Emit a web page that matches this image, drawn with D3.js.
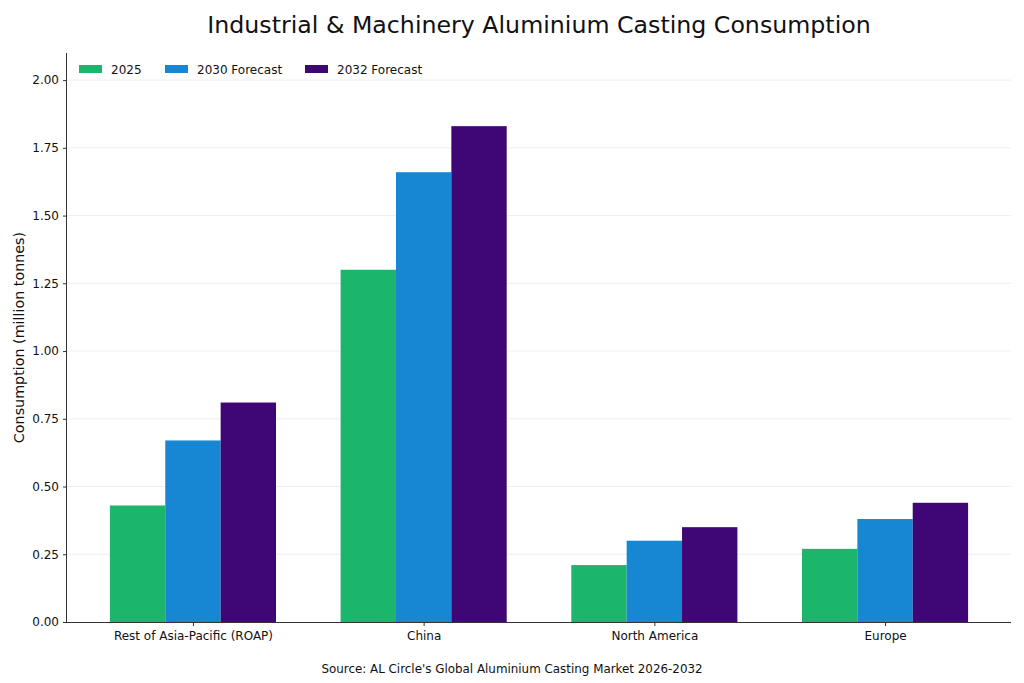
<!DOCTYPE html>
<html>
<head>
<meta charset="utf-8">
<script src="https://cdn.jsdelivr.net/npm/d3@7"></script>
<style>
  body { margin: 0; background: #fff; }
  svg { font-family: "DejaVu Sans", sans-serif; }
</style>
</head>
<body>
<div id="chart"></div>
<script>
// data
const regions = ["Rest of Asia-Pacific (ROAP)", "China", "North America", "Europe"];
const seriesNames = ["2025", "2030 Forecast", "2032 Forecast"];
const values2025 = [0.43, 1.30, 0.21, 0.27];
const values2030 = [0.67, 1.66, 0.30, 0.38];
const values2032 = [0.81, 1.83, 0.35, 0.44];
const yTicks = [0, 0.25, 0.5, 0.75, 1.0, 1.25, 1.5, 1.75, 2.0];
const colors = ["#1bb56b", "#1787d4", "#3f0775"];

const W = 1024, H = 683;
const margin = {top: 53, right: 13, bottom: 61, left: 67};
const width = W - margin.left - margin.right;
const height = H - margin.top - margin.bottom;

const svg = d3.select("#chart").append("svg")
  .attr("width", W).attr("height", H);

const g = svg.append("g")
  .attr("transform", "translate(" + margin.left + "," + margin.top + ")");

const series = [values2025, values2030, values2032];
const barW = 0.24;

// category index scale, matplotlib style padding
const x = d3.scaleLinear().domain([-0.546, 3.546]).range([0, width]);
const y = d3.scaleLinear().domain([0, 2.1]).range([height, 0]);

// grid
g.append("g").selectAll("line")
  .data(yTicks.slice(1))
  .enter().append("line")
    .attr("x1", 0).attr("x2", width)
    .attr("y1", d => y(d)).attr("y2", d => y(d))
    .attr("stroke", "#ebebeb").attr("stroke-width", 0.8);

// bars
series.forEach(function(vals, si) {
  g.append("g").selectAll("rect")
    .data(vals)
    .enter().append("rect")
      .attr("x", (d, i) => x(i + (si - 1) * barW - barW / 2))
      .attr("width", x(barW) - x(0))
      .attr("y", d => y(d))
      .attr("height", d => y(0) - y(d))
      .attr("fill", colors[si]);
});

// axes
const yAxis = g.append("g")
  .call(d3.axisLeft(y).tickValues(yTicks).tickFormat(d3.format(".2f")).tickSize(4).tickPadding(4));
const xAxis = g.append("g")
  .attr("transform", "translate(0," + height + ")")
  .call(d3.axisBottom(x).tickValues(d3.range(regions.length)).tickFormat(i => regions[i]).tickSize(4).tickPadding(5));

[xAxis, yAxis].forEach(function(a) {
  a.select(".domain").attr("stroke", "#333").attr("stroke-width", 1);
  a.selectAll(".tick line").attr("stroke", "#333");
  a.selectAll(".tick text").attr("fill", "#111").style("font-size", "12px")
    .style("font-family", "DejaVu Sans, sans-serif");
});
xAxis.select(".domain").attr("d", "M0,0.5H" + width);
yAxis.select(".domain").attr("d", "M-0.5," + height + "V0");

// title
svg.append("text")
  .attr("x", 539).attr("y", 33)
  .attr("text-anchor", "middle")
  .style("font-size", "23.7px")
  .attr("fill", "#111")
  .text("Industrial & Machinery Aluminium Casting Consumption");

// y label
svg.append("text")
  .attr("transform", "translate(24," + (margin.top + height / 2) + ") rotate(-90)")
  .attr("text-anchor", "middle")
  .style("font-size", "14.3px")
  .attr("fill", "#111")
  .text("Consumption (million tonnes)");

// source
svg.append("text")
  .attr("x", 512).attr("y", 673)
  .attr("text-anchor", "middle")
  .style("font-size", "11.9px")
  .attr("fill", "#111")
  .text("Source: AL Circle's Global Aluminium Casting Market 2026-2032");

// legend
const legendX = [79, 165, 305];
const legend = svg.append("g").selectAll("g")
  .data(seriesNames)
  .enter().append("g")
    .attr("transform", (d, i) => "translate(" + legendX[i] + ",65)");
legend.append("rect")
  .attr("width", 23).attr("height", 8)
  .attr("fill", (d, i) => colors[i]);
legend.append("text")
  .attr("x", 32).attr("y", 8.5)
  .style("font-size", "12px")
  .attr("fill", "#111")
  .text(d => d);
</script>
</body>
</html>
